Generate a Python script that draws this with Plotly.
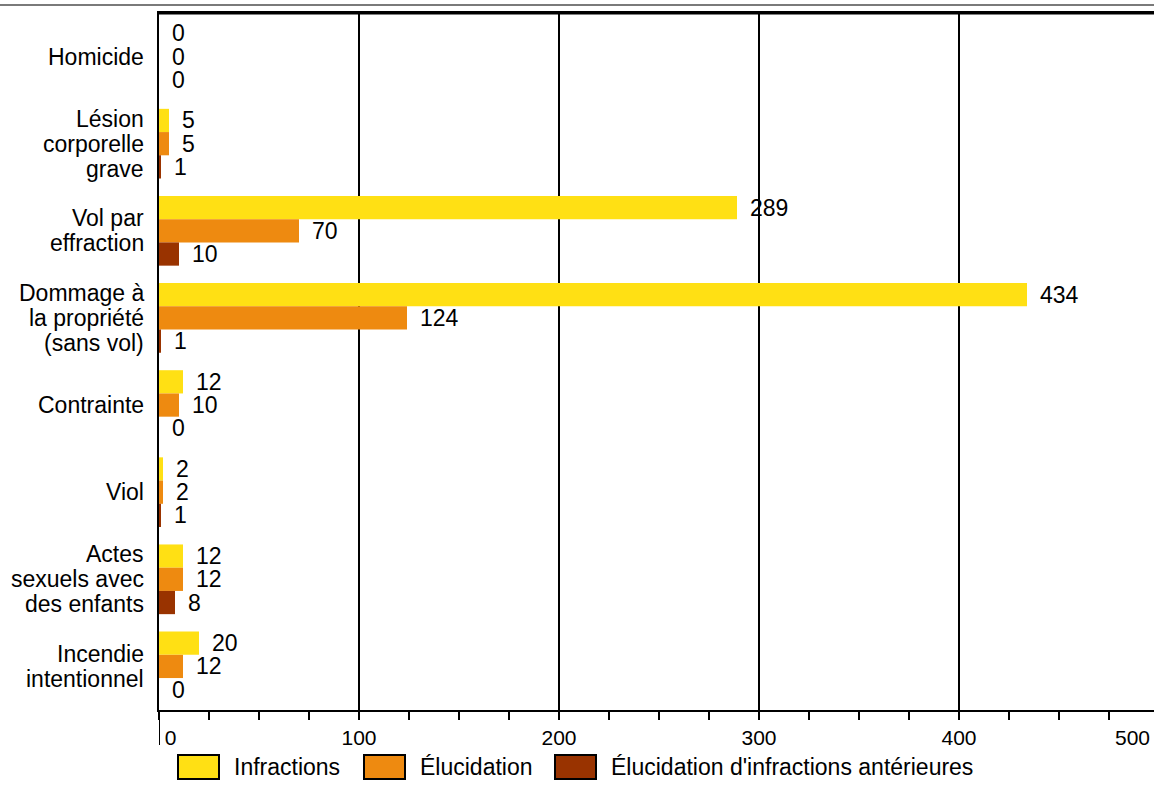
import plotly.graph_objects as go

categories = [
    "Homicide",
    "Lésion<br>corporelle<br>grave",
    "Vol par<br>effraction",
    "Dommage à<br>la propriété<br>(sans vol)",
    "Contrainte",
    "Viol",
    "Actes<br>sexuels avec<br>des enfants",
    "Incendie<br>intentionnel",
]
series_names = ["Infractions", "Élucidation", "Élucidation d'infractions antérieures"]
infractions = [0, 5, 289, 434, 12, 2, 12, 20]
elucidation = [0, 5, 70, 124, 10, 2, 12, 12]
elucidation_anterieures = [0, 1, 10, 1, 0, 1, 8, 0]
colors = ["#FFE014", "#EE8A10", "#993300"]
x_tickvals = [0, 100, 200, 300, 400]
x_ticktext = ["\u00a0\u00a0\u00a0\u00a00", "100", "200", "300", "400"]
x_last_tick = "500"

FONT = "Liberation Sans, Arial, sans-serif"
W, H = 1154, 785
ML, MR, MT, MB = 159, 0, 13, 75
PW, PH = W - ML - MR, H - MT - MB
BARGAP = 0.2
BAR_PX = PH / len(categories) * (1 - BARGAP) / 3

all_series = [infractions, elucidation, elucidation_anterieures]

fig = go.Figure()
for name, vals, col in zip(series_names, all_series, colors):
    fig.add_trace(go.Bar(
        y=categories, x=vals, name=name, orientation="h",
        marker=dict(color=col, line=dict(width=0)),
        showlegend=False,
    ))

def px_x(p):
    return (p - ML) / PW

def px_y(p):
    return (H - MB - p) / PH

shapes = [
    # grey rule at the very top
    dict(type="line", xref="paper", yref="paper", x0=px_x(0), x1=px_x(W), y0=px_y(5), y1=px_y(5),
         line=dict(color="#7a7a7a", width=2)),
    # top border of the plot
    dict(type="line", xref="paper", yref="paper", x0=0, x1=1, y0=1, y1=1,
         line=dict(color="black", width=3)),
    # y-axis line extending below the x-axis
    dict(type="line", xref="x", yref="paper", x0=0, x1=0, y0=0, y1=px_y(745),
         line=dict(color="black", width=2)),
]
annotations = [
    dict(text=x_last_tick, xref="paper", yref="paper", x=px_x(1152), y=px_y(737),
         xanchor="right", yanchor="middle", showarrow=False,
         font=dict(family=FONT, size=21, color="black")),
]

# value labels next to each bar
for ti, vals in enumerate(all_series):
    for cat, v in zip(categories, vals):
        annotations.append(dict(
            text=str(v), x=v, y=cat, xref="x", yref="y",
            xanchor="left", yanchor="middle", xshift=11, yshift=(1 - ti) * BAR_PX,
            showarrow=False, font=dict(family=FONT, size=23, color="black"),
        ))

# category labels (manual line spacing)
LINE_PX = 25
for cat in categories:
    lines = cat.split("<br>")
    n = len(lines)
    for i, ln in enumerate(lines):
        annotations.append(dict(
            text=ln, x=0, y=cat, xref="paper", yref="y",
            xanchor="right", yanchor="middle", xshift=-13,
            yshift=((n - 1) / 2 - i) * LINE_PX,
            showarrow=False, font=dict(family=FONT, size=23, color="black"),
        ))

# legend
legend_boxes = [(178, 219), (364, 405), (555, 596)]
legend_text_x = [232, 418, 609]
for (bx0, bx1), tx, name, col in zip(legend_boxes, legend_text_x, series_names, colors):
    shapes.append(dict(type="rect", xref="paper", yref="paper",
                       x0=px_x(bx0), x1=px_x(bx1), y0=px_y(779), y1=px_y(755),
                       fillcolor=col, line=dict(color="black", width=2)))
    annotations.append(dict(text=name, xref="paper", yref="paper", x=px_x(tx), y=px_y(767),
                            xanchor="left", yanchor="middle", showarrow=False,
                            font=dict(family=FONT, size=23, color="black")))

fig.update_layout(
    width=W, height=H,
    margin=dict(l=ML, r=MR, t=MT, b=MB, pad=0),
    barmode="group", bargap=BARGAP, bargroupgap=0,
    paper_bgcolor="white", plot_bgcolor="white",
    font=dict(family=FONT, size=22, color="black"),
    shapes=shapes, annotations=annotations,
    showlegend=False,
    xaxis=dict(
        range=[0, 497.5], tickvals=x_tickvals, ticktext=x_ticktext,
        showgrid=True, gridcolor="black", gridwidth=2, zeroline=False,
        showline=True, linecolor="black", linewidth=2, mirror=True,
        ticks="outside", ticklen=8, tickwidth=2, tickcolor="black",
        minor=dict(dtick=25, tick0=0, ticks="outside", ticklen=8, tickwidth=2,
                   tickcolor="black", showgrid=False),
        tickfont=dict(family=FONT, size=21, color="black"),
        fixedrange=True,
    ),
    yaxis=dict(
        autorange="reversed", showgrid=False, zeroline=False,
        showline=True, linecolor="black", linewidth=2, mirror=False,
        ticks="", showticklabels=False,
        fixedrange=True,
    ),
)

fig.write_html("out.html", config={"displayModeBar": False},
               post_script="document.body.style.margin='0';")
